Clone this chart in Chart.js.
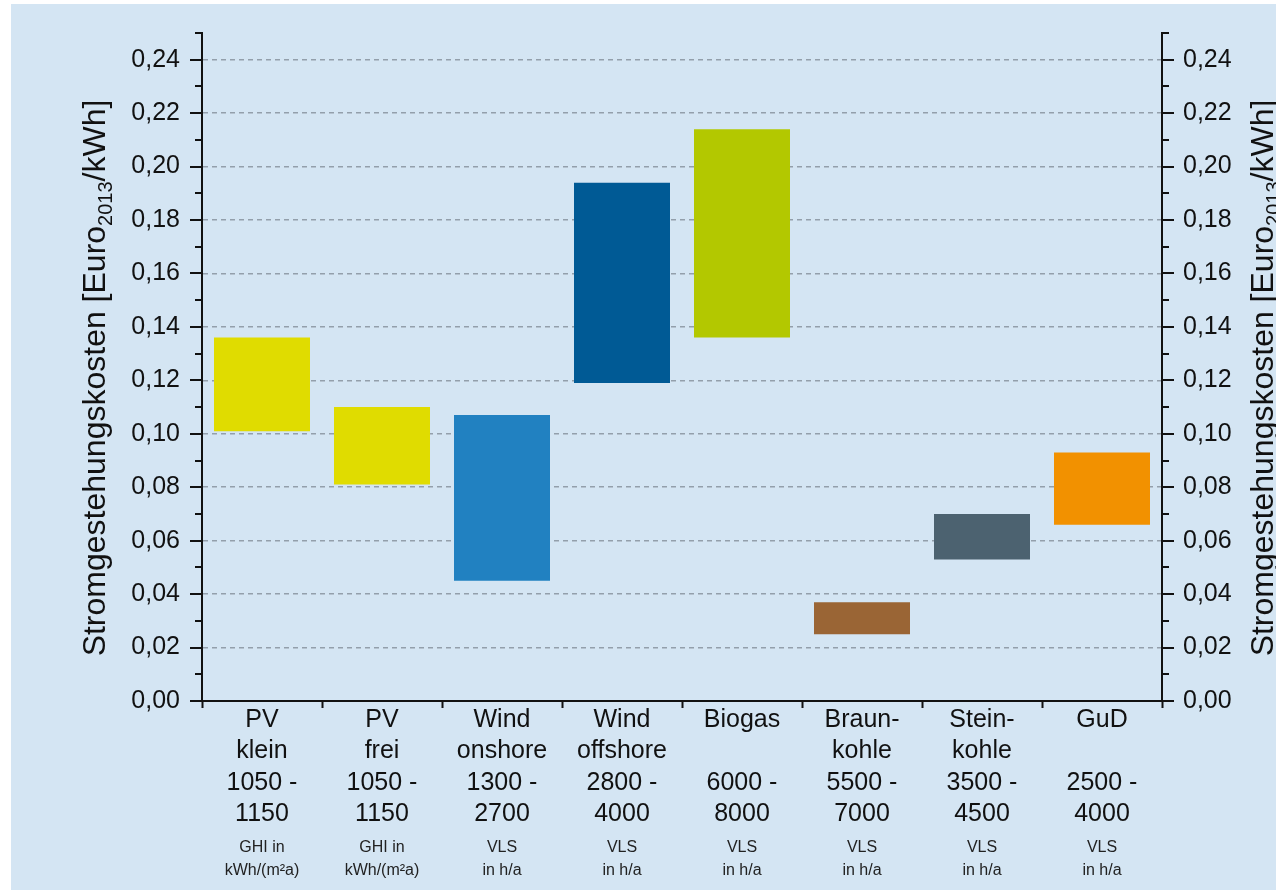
<!DOCTYPE html>
<html>
<head>
<meta charset="utf-8">
<script src="https://cdn.jsdelivr.net/npm/chart.js@4.4.1/dist/chart.umd.min.js"></script>
<style>
  html, body { margin: 0; padding: 0; background: #ffffff; }
  #wrap { width: 1276px; height: 892px; position: relative; }
</style>
</head>
<body>
<div id="wrap"><canvas id="c" width="1276" height="892"></canvas></div>
<script>
// ---------- data ----------
const categories = ['PV klein', 'PV frei', 'Wind onshore', 'Wind offshore', 'Biogas', 'Braunkohle', 'Steinkohle', 'GuD'];
const labelLines = [
  ['PV', 'klein', '1050 -', '1150'],
  ['PV', 'frei', '1050 -', '1150'],
  ['Wind', 'onshore', '1300 -', '2700'],
  ['Wind', 'offshore', '2800 -', '4000'],
  ['Biogas', '', '6000 -', '8000'],
  ['Braun-', 'kohle', '5500 -', '7000'],
  ['Stein-', 'kohle', '3500 -', '4500'],
  ['GuD', '', '2500 -', '4000']
];
const unitLines = [
  ['GHI in', 'kWh/(m²a)'],
  ['GHI in', 'kWh/(m²a)'],
  ['VLS', 'in h/a'],
  ['VLS', 'in h/a'],
  ['VLS', 'in h/a'],
  ['VLS', 'in h/a'],
  ['VLS', 'in h/a'],
  ['VLS', 'in h/a']
];
const lowValues  = [0.101, 0.081, 0.045, 0.119, 0.136, 0.025, 0.053, 0.066];
const highValues = [0.136, 0.110, 0.107, 0.194, 0.214, 0.037, 0.070, 0.093];
const barColors  = ['#e0dc00', '#e0dc00', '#2181c1', '#005a95', '#b3c800', '#9a6535', '#4c6270', '#f29100'];
const yMin = 0, yMax = 0.25, yStep = 0.01;
const axisTitle = ['Stromgestehungskosten [Euro', '2013', '/kWh]'];

// ---------- chart ----------
const FONT = '"Liberation Sans", Arial, sans-serif';
const rangeData = lowValues.map((lo, i) => [lo, highValues[i]]);
const isMajor = v => Math.round(v * 100) % 2 === 0;
const fmt = v => v.toFixed(2).replace('.', ',');

const bgPlugin = {
  id: 'bg',
  beforeDraw(chart) {
    const ctx = chart.ctx;
    ctx.save();
    ctx.fillStyle = '#ffffff';
    ctx.fillRect(0, 0, chart.width, chart.height);
    ctx.fillStyle = '#d4e5f3';
    ctx.fillRect(11, 4, chart.width - 11, chart.height - 6);
    ctx.restore();
  }
};

const decoPlugin = {
  id: 'deco',
  afterDraw(chart) {
    const ctx = chart.ctx;
    const y = chart.scales.y, x = chart.scales.x;
    const ca = chart.chartArea;
    ctx.save();
    // minor / major ticks on both vertical axes
    ctx.strokeStyle = '#111';
    ctx.lineWidth = 2;
    const n = Math.round((yMax - yMin) / yStep);
    for (let i = 0; i <= n; i++) {
      const v = yMin + i * yStep;
      const py = Math.round(y.getPixelForValue(v));
      const len = isMajor(v) ? 12 : 7;
      ctx.beginPath();
      ctx.moveTo(ca.left - len, py); ctx.lineTo(ca.left, py);
      ctx.moveTo(ca.right, py); ctx.lineTo(ca.right + len, py);
      ctx.stroke();
    }
    // unit lines under the x labels
    const base = y.getPixelForValue(yMin);
    ctx.fillStyle = '#222';
    ctx.font = '16px ' + FONT;
    ctx.textAlign = 'center';
    ctx.textBaseline = 'alphabetic';
    unitLines.forEach((lines, i) => {
      const px = x.getPixelForValue(i);
      lines.forEach((t, j) => ctx.fillText(t, px, base + 151 + j * 23));
    });
    // axis titles with subscript
    const drawTitle = (cx, cy) => {
      ctx.save();
      ctx.translate(cx, cy);
      ctx.rotate(-Math.PI / 2);
      ctx.fillStyle = '#111';
      ctx.textBaseline = 'middle';
      ctx.textAlign = 'left';
      const big = '32px ' + FONT, small = '20px ' + FONT;
      ctx.font = big; const w1 = ctx.measureText(axisTitle[0]).width;
      const w3 = ctx.measureText(axisTitle[2]).width;
      ctx.font = small; const w2 = ctx.measureText(axisTitle[1]).width;
      let xx = -(w1 + w2 + w3) / 2;
      ctx.font = big; ctx.fillText(axisTitle[0], xx, 0); xx += w1;
      ctx.font = small; ctx.fillText(axisTitle[1], xx, 10); xx += w2;
      ctx.font = big; ctx.fillText(axisTitle[2], xx, 0);
      ctx.restore();
    };
    drawTitle(96, 378);
    drawTitle(1264, 378);
    ctx.restore();
  }
};

const noVertPad = s => { s.paddingTop = 0; s.paddingBottom = 0; };

new Chart(document.getElementById('c'), {
  type: 'bar',
  data: {
    labels: categories,
    datasets: [{
      data: rangeData,
      backgroundColor: barColors,
      borderWidth: 0,
      barPercentage: 0.8,
      categoryPercentage: 1.0,
      yAxisID: 'y'
    }]
  },
  options: {
    responsive: false,
    animation: false,
    devicePixelRatio: 1,
    layout: { padding: { top: 33, left: 0, right: 0, bottom: 0 } },
    plugins: { legend: { display: false }, tooltip: { enabled: false } },
    scales: {
      x: {
        type: 'category',
        offset: true,
        grid: { display: true, offset: true, drawOnChartArea: false, drawTicks: true, tickLength: 7, tickWidth: 2, tickColor: '#111' },
        border: { display: true, color: '#111', width: 2 },
        ticks: {
          color: '#111',
          font: { family: FONT, size: 25, lineHeight: 1.26 },
          padding: -4,
          maxRotation: 0, minRotation: 0, autoSkip: false,
          callback: (v, i) => labelLines[i]
        },
        afterFit: s => { s.height = 191; s.paddingLeft = 0; s.paddingRight = 0; }
      },
      y: {
        position: 'left',
        min: yMin, max: yMax,
        grid: {
          drawTicks: false,
          lineWidth: 1.5,
          color: c => {
            const v = c.tick ? c.tick.value : 0;
            if (v <= 0.0001 || v >= yMax - 0.0001 || !isMajor(v)) return 'rgba(0,0,0,0)';
            return '#939fab';
          }
        },
        border: { display: true, color: '#111', width: 2, dash: [5, 4] },
        ticks: {
          stepSize: yStep,
          autoSkip: false,
          padding: 22,
          color: '#111',
          font: { family: FONT, size: 25 },
          callback: v => isMajor(v) ? fmt(v) : ''
        },
        afterFit: s => { s.width = 202; noVertPad(s); }
      },
      y2: {
        position: 'right',
        min: yMin, max: yMax,
        grid: { display: true, drawOnChartArea: false, drawTicks: false },
        border: { display: true, color: '#111', width: 2 },
        ticks: {
          stepSize: yStep,
          autoSkip: false,
          padding: 21,
          color: '#111',
          font: { family: FONT, size: 25 },
          callback: v => isMajor(v) ? fmt(v) : ''
        },
        afterFit: s => { s.width = 114; noVertPad(s); }
      }
    }
  },
  plugins: [bgPlugin, decoPlugin]
});
</script>
</body>
</html>
